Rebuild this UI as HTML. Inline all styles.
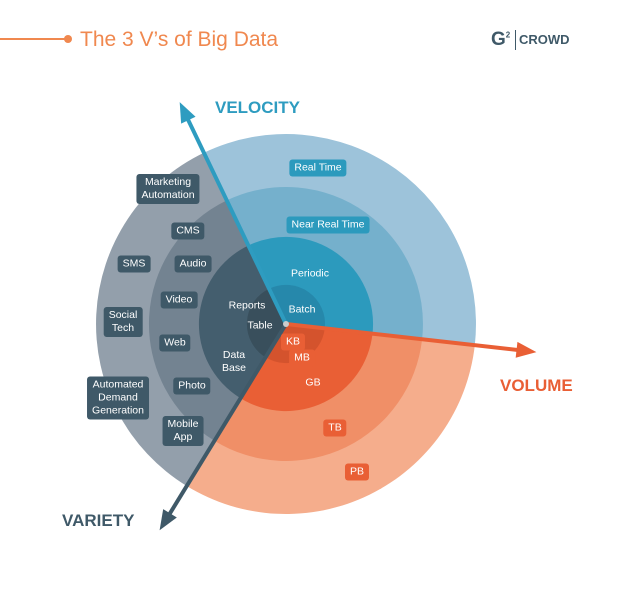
<!DOCTYPE html>
<html><head><meta charset="utf-8"><style>
body{margin:0;width:618px;height:600px;background:#fff;overflow:hidden;position:relative;font-family:"Liberation Sans",sans-serif}
.l{position:absolute;transform:translate(-50%,-50%);color:#fff;font-size:10.5px;line-height:13px;text-align:center;border-radius:3px;padding:2px 5px;white-space:nowrap}
.g{background:#3f5968}.b{background:#2c9abd}.o{background:#e95f35}.n{background:none}
.h{position:absolute;font-weight:bold;font-size:17px}
</style></head><body>
<svg id="s" width="618" height="600" style="position:absolute;left:0;top:0"></svg>
<div style="position:absolute;left:0;top:38px;width:66px;height:2px;background:#f0884f"></div>
<div style="position:absolute;left:64px;top:35px;width:8px;height:8px;border-radius:50%;background:#f0884f"></div>
<div style="position:absolute;left:80px;top:28px;font-size:21px;color:#f0884f">The 3 V’s of Big Data</div>
<div style="position:absolute;left:491px;top:29px;font-size:19px;font-weight:bold;color:#3f5968">G<sup style="font-size:8px">2</sup></div>
<div style="position:absolute;left:515px;top:30px;width:1px;height:20px;background:#3f5968"></div>
<div style="position:absolute;left:519px;top:32px;font-size:13px;font-weight:bold;color:#3f5968">CROWD</div>
<div class="h" style="left:215px;top:98px;color:#2e9cc0">VELOCITY</div>
<div class="h" style="left:500px;top:376px;color:#e95f35">VOLUME</div>
<div class="h" style="left:62px;top:511px;color:#3f5968">VARIETY</div>
<div class="l b" style="left:318px;top:168px">Real Time</div>
<div class="l b" style="left:328px;top:225px">Near Real Time</div>
<div class="l n" style="left:310px;top:274px">Periodic</div>
<div class="l n" style="left:302px;top:310px">Batch</div>
<div class="l n" style="left:247px;top:306px">Reports</div>
<div class="l n" style="left:260px;top:326px">Table</div>
<div class="l n" style="left:234px;top:362px">Data<br>Base</div>
<div class="l o" style="left:293px;top:342px">KB</div>
<div class="l o" style="left:302px;top:358px">MB</div>
<div class="l n" style="left:313px;top:383px">GB</div>
<div class="l o" style="left:335px;top:428px">TB</div>
<div class="l o" style="left:357px;top:472px">PB</div>
<div class="l g" style="left:168px;top:189px">Marketing<br>Automation</div>
<div class="l g" style="left:188px;top:231px">CMS</div>
<div class="l g" style="left:134px;top:264px">SMS</div>
<div class="l g" style="left:193px;top:264px">Audio</div>
<div class="l g" style="left:179px;top:300px">Video</div>
<div class="l g" style="left:123px;top:322px">Social<br>Tech</div>
<div class="l g" style="left:118px;top:398px">Automated<br>Demand<br>Generation</div>
<div class="l g" style="left:175px;top:343px">Web</div>
<div class="l g" style="left:192px;top:386px">Photo</div>
<div class="l g" style="left:183px;top:431px">Mobile<br>App</div>
<script>
var cx=286,cy=324,s=document.getElementById('s'),h='';
var R=[190,137,87,39];
var sec=[[-115.6,6.4,['#9dc3da','#75b0cc','#2c9abd','#2688ab']],[6.4,121.5,['#f5ad8c','#f08f67','#e95f35','#d4532d']],[121.5,244.4,['#939fab','#738391','#445e6e','#394f5c']]];
function p(a,r){a=a*Math.PI/180;return (cx+r*Math.cos(a)).toFixed(1)+','+(cy+r*Math.sin(a)).toFixed(1)}
sec.forEach(function(q){R.forEach(function(r,i){var big=(q[1]-q[0])>180?1:0;
h+='<path d="M'+cx+','+cy+' L'+p(q[0],r)+' A'+r+','+r+' 0 '+big+' 1 '+p(q[1],r)+' Z" fill="'+q[2][i]+'"/>';});});
function ar(a,len,c){var e=p(a,len);var A=a*Math.PI/180;
var bx=cx+(len-20)*Math.cos(A),by=cy+(len-20)*Math.sin(A),nx=-Math.sin(A)*8,ny=Math.cos(A)*8;
h+='<line x1="'+cx+'" y1="'+cy+'" x2="'+p(a,len-10).split(',')[0]+'" y2="'+p(a,len-10).split(',')[1]+'" stroke="'+c+'" stroke-width="4"/>';
h+='<polygon points="'+e+' '+(bx+nx)+','+(by+ny)+' '+(bx-nx)+','+(by-ny)+'" fill="'+c+'"/>';}
ar(-115.6,246,'#2e9cc0');ar(6.4,252,'#e95f35');ar(121.5,242,'#3f5968');
h+='<circle cx="'+cx+'" cy="'+cy+'" r="3" fill="#ccc"/>';
s.innerHTML=h;
</script>
</body></html>
